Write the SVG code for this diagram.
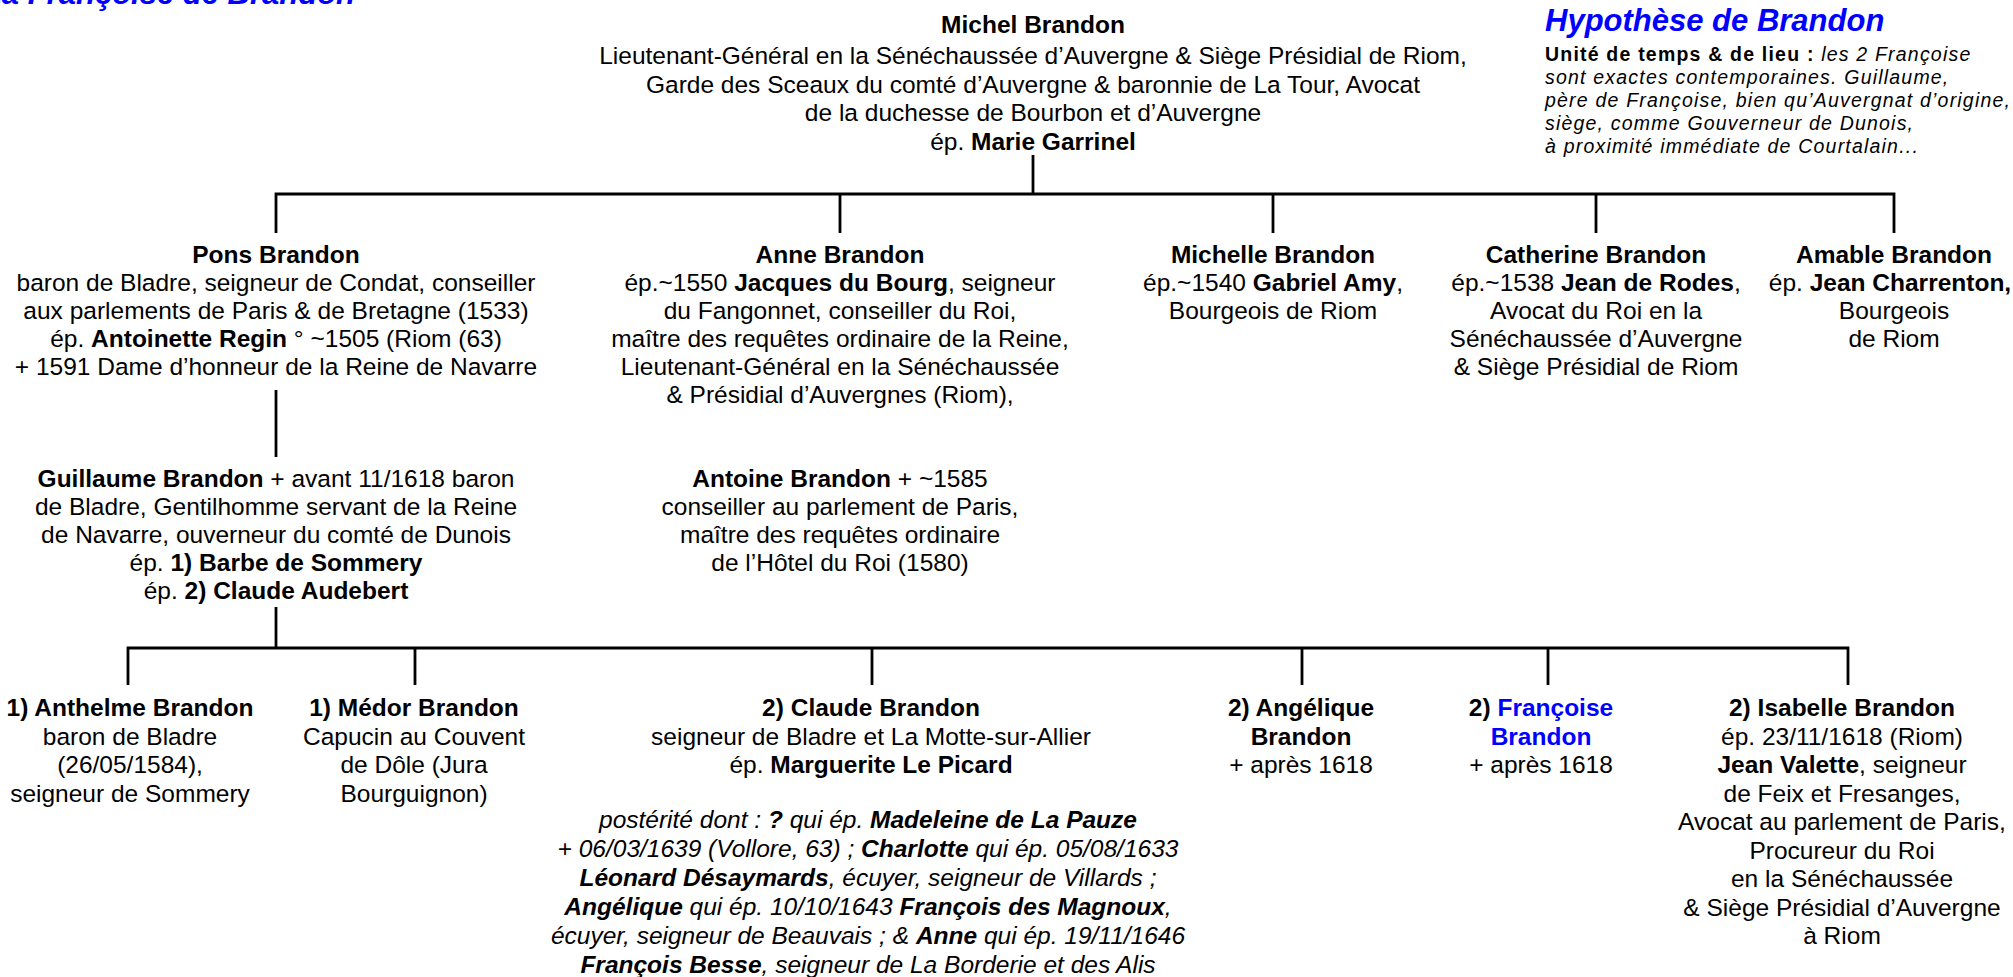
<svg xmlns="http://www.w3.org/2000/svg" width="2013" height="977" viewBox="0 0 2013 977">
<style>
text{font-family:"Liberation Sans",Arial,Helvetica,sans-serif;font-size:24.5px;fill:#000;text-anchor:middle}
.b{font-weight:bold}
.i{font-style:italic}
.blue{fill:#0000ff}
.conn{stroke:#000;stroke-width:2.8;fill:none}
.hyp{text-anchor:start;font-size:19.5px;letter-spacing:1.2px}
.ttl{font-size:31px;font-weight:bold;font-style:italic;fill:#0000ff}
</style>
<rect width="2013" height="977" fill="#fff"/>
<g id="connectors">
<path class="conn" d="M1033,155 V194"/>
<path class="conn" d="M276,233 V194 H1894 V233"/>
<path class="conn" d="M840,194 V233 M1273,194 V233 M1596,194 V233"/>
<path class="conn" d="M276,390 V457"/>
<path class="conn" d="M276,607 V648"/>
<path class="conn" d="M128,685 V648 H1848 V685"/>
<path class="conn" d="M415,648 V685 M872,648 V685 M1302,648 V685 M1548,648 V685"/>
</g>
<g id="title-left">
<text class="ttl" x="355" y="3.5" style="text-anchor:end">La Françoise de Brandon</text>
</g>
<g id="hypothese">
<text class="ttl" x="1545" y="31" style="text-anchor:start">Hypothèse de Brandon</text>
<text class="hyp" x="1545" y="61"><tspan class="b">Unité de temps &amp; de lieu :</tspan><tspan class="i"> les 2 Françoise</tspan></text>
<text class="hyp i" x="1545" y="84">sont exactes contemporaines. Guillaume,</text>
<text class="hyp i" x="1545" y="107">père de Françoise, bien qu’Auvergnat d’origine,</text>
<text class="hyp i" x="1545" y="130">siège, comme Gouverneur de Dunois,</text>
<text class="hyp i" x="1545" y="153">à proximité immédiate de Courtalain...</text>
</g>
<g id="michel">
<text x="1033" y="33" class="b">Michel Brandon</text>
<text x="1033" y="64">Lieutenant-Général en la Sénéchaussée d’Auvergne &amp; Siège Présidial de Riom,</text>
<text x="1033" y="93">Garde des Sceaux du comté d’Auvergne &amp; baronnie de La Tour, Avocat</text>
<text x="1033" y="121">de la duchesse de Bourbon et d’Auvergne</text>
<text x="1033" y="150">ép. <tspan class="b">Marie Garrinel</tspan></text>
</g>
<g id="pons">
<text x="276" y="263" class="b">Pons Brandon</text>
<text x="276" y="291">baron de Bladre, seigneur de Condat, conseiller</text>
<text x="276" y="319">aux parlements de Paris &amp; de Bretagne (1533)</text>
<text x="276" y="347">ép. <tspan class="b">Antoinette Regin</tspan> ° ~1505 (Riom (63)</text>
<text x="276" y="375">+ 1591 Dame d’honneur de la Reine de Navarre</text>
</g>
<g id="anne">
<text x="840" y="263" class="b">Anne Brandon</text>
<text x="840" y="291">ép.~1550 <tspan class="b">Jacques du Bourg</tspan>, seigneur</text>
<text x="840" y="319">du Fangonnet, conseiller du Roi,</text>
<text x="840" y="347">maître des requêtes ordinaire de la Reine,</text>
<text x="840" y="375">Lieutenant-Général en la Sénéchaussée</text>
<text x="840" y="403">&amp; Présidial d’Auvergnes (Riom),</text>
</g>
<g id="michelle">
<text x="1273" y="263" class="b">Michelle Brandon</text>
<text x="1273" y="291">ép.~1540 <tspan class="b">Gabriel Amy</tspan>,</text>
<text x="1273" y="319">Bourgeois de Riom</text>
</g>
<g id="catherine">
<text x="1596" y="263" class="b">Catherine Brandon</text>
<text x="1596" y="291">ép.~1538 <tspan class="b">Jean de Rodes</tspan>,</text>
<text x="1596" y="319">Avocat du Roi en la</text>
<text x="1596" y="347">Sénéchaussée d’Auvergne</text>
<text x="1596" y="375">&amp; Siège Présidial de Riom</text>
</g>
<g id="amable">
<text x="1894" y="263" class="b">Amable Brandon</text>
<text x="1890" y="291">ép. <tspan class="b">Jean Charrenton,</tspan></text>
<text x="1894" y="319">Bourgeois</text>
<text x="1894" y="347">de Riom</text>
</g>
<g id="guillaume">
<text x="276" y="487"><tspan class="b">Guillaume Brandon</tspan> + avant 11/1618 baron</text>
<text x="276" y="515">de Bladre, Gentilhomme servant de la Reine</text>
<text x="276" y="543">de Navarre, ouverneur du comté de Dunois</text>
<text x="276" y="571">ép. <tspan class="b">1) Barbe de Sommery</tspan></text>
<text x="276" y="599">ép. <tspan class="b">2) Claude Audebert</tspan></text>
</g>
<g id="antoine">
<text x="840" y="487"><tspan class="b">Antoine Brandon</tspan> + ~1585</text>
<text x="840" y="515">conseiller au parlement de Paris,</text>
<text x="840" y="543">maître des requêtes ordinaire</text>
<text x="840" y="571">de l’Hôtel du Roi (1580)</text>
</g>
<g id="anthelme">
<text x="130" y="716" class="b">1) Anthelme Brandon</text>
<text x="130" y="744.5">baron de Bladre</text>
<text x="130" y="773">(26/05/1584),</text>
<text x="130" y="801.5">seigneur de Sommery</text>
</g>
<g id="medor">
<text x="414" y="716" class="b">1) Médor Brandon</text>
<text x="414" y="744.5">Capucin au Couvent</text>
<text x="414" y="773">de Dôle (Jura</text>
<text x="414" y="801.5">Bourguignon)</text>
</g>
<g id="claude">
<text x="871" y="716" class="b">2) Claude Brandon</text>
<text x="871" y="744.5">seigneur de Bladre et La Motte-sur-Allier</text>
<text x="871" y="773">ép. <tspan class="b">Marguerite Le Picard</tspan></text>
<text x="868" y="828" class="i">postérité dont : <tspan class="b">?</tspan> qui ép. <tspan class="b">Madeleine de La Pauze</tspan></text>
<text x="868" y="857" class="i">+ 06/03/1639 (Vollore, 63) ; <tspan class="b">Charlotte</tspan> qui ép. 05/08/1633</text>
<text x="868" y="886" class="i"><tspan class="b">Léonard Désaymards</tspan>, écuyer, seigneur de Villards ;</text>
<text x="868" y="915" class="i"><tspan class="b">Angélique</tspan> qui ép. 10/10/1643 <tspan class="b">François des Magnoux</tspan>,</text>
<text x="868" y="944" class="i">écuyer, seigneur de Beauvais ; &amp; <tspan class="b">Anne</tspan> qui ép. 19/11/1646</text>
<text x="868" y="972.5" class="i"><tspan class="b">François Besse</tspan>, seigneur de La Borderie et des Alis</text>
</g>
<g id="angelique">
<text x="1301" y="716" class="b">2) Angélique</text>
<text x="1301" y="744.5" class="b">Brandon</text>
<text x="1301" y="773">+ après 1618</text>
</g>
<g id="francoise">
<text x="1541" y="716" class="b">2) <tspan class="blue">Françoise</tspan></text>
<text x="1541" y="744.5" class="b blue">Brandon</text>
<text x="1541" y="773">+ après 1618</text>
</g>
<g id="isabelle">
<text x="1842" y="716" class="b">2) Isabelle Brandon</text>
<text x="1842" y="744.5">ép. 23/11/1618 (Riom)</text>
<text x="1842" y="773"><tspan class="b">Jean Valette</tspan>, seigneur</text>
<text x="1842" y="801.5">de Feix et Fresanges,</text>
<text x="1842" y="830">Avocat au parlement de Paris,</text>
<text x="1842" y="858.5">Procureur du Roi</text>
<text x="1842" y="887">en la Sénéchaussée</text>
<text x="1842" y="915.5">&amp; Siège Présidial d’Auvergne</text>
<text x="1842" y="944">à Riom</text>
</g>
</svg>
